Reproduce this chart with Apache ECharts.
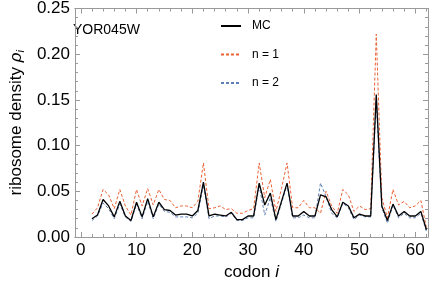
<!DOCTYPE html>
<html>
<head>
<meta charset="utf-8">
<script src="https://cdn.jsdelivr.net/npm/echarts@6/dist/echarts.min.js"></script>
<style>
html,body{margin:0;padding:0;background:#fff;}
#chart{width:436px;height:286px;}
</style>
</head>
<body>
<div id="chart"></div>
<script>
const codons = [2,3,4,5,6,7,8,9,10,11,12,13,14,15,16,17,18,19,20,21,22,23,24,25,26,27,28,29,30,31,32,33,34,35,36,37,38,39,40,41,42,43,44,45,46,47,48,49,50,51,52,53,54,55,56,57,58,59,60,61,62];
const mcValues = [0.020,0.024,0.041,0.034,0.022,0.039,0.023,0.018,0.038,0.022,0.042,0.022,0.038,0.030,0.029,0.024,0.025,0.025,0.023,0.029,0.060,0.023,0.025,0.024,0.023,0.027,0.019,0.019,0.023,0.023,0.059,0.035,0.048,0.019,0.039,0.059,0.023,0.023,0.028,0.023,0.023,0.046,0.044,0.030,0.022,0.038,0.034,0.021,0.025,0.023,0.023,0.156,0.034,0.018,0.036,0.023,0.028,0.023,0.023,0.028,0.008];
const n1Values = [0.025,0.032,0.052,0.046,0.031,0.052,0.034,0.024,0.052,0.034,0.053,0.035,0.052,0.041,0.040,0.032,0.034,0.034,0.032,0.039,0.081,0.031,0.032,0.034,0.030,0.031,0.026,0.026,0.029,0.031,0.081,0.043,0.063,0.028,0.053,0.081,0.032,0.032,0.040,0.032,0.032,0.026,0.050,0.034,0.026,0.052,0.046,0.028,0.034,0.030,0.031,0.222,0.043,0.021,0.052,0.035,0.039,0.032,0.034,0.040,0.010];
const n2Values = [0.018,0.023,0.037,0.031,0.020,0.036,0.022,0.017,0.036,0.020,0.039,0.020,0.036,0.028,0.027,0.022,0.022,0.022,0.021,0.026,0.057,0.020,0.023,0.023,0.022,0.026,0.018,0.018,0.021,0.021,0.056,0.024,0.043,0.017,0.037,0.057,0.021,0.021,0.024,0.021,0.021,0.059,0.044,0.026,0.021,0.037,0.032,0.019,0.024,0.022,0.022,0.150,0.032,0.015,0.035,0.021,0.026,0.021,0.021,0.026,0.006];
const xMajorTicks = [0,10,20,30,40,50,60];
const xMinorTicks = [2,4,6,8,12,14,16,18,22,24,26,28,32,34,36,38,42,44,46,48,52,54,56,58,62];
const seriesNames = ['MC','n = 1','n = 2'];
const geneLabel = 'YOR045W';

const frameColor = '#9a9a9a';
const font = '"Liberation Sans", Arial, Helvetica, sans-serif';
const XMIN = -1.04, XMAX = 62.28;

function pairs(vals){ return codons.map((c,i)=>[c, vals[i]]); }

function xAxisDef(pos, ticks, len, showLabel, extra){
  return Object.assign({
    type:'value', position:pos, min:XMIN, max:XMAX,
    axisLine:{show:true, onZero:false, lineStyle:{color:frameColor, width:1}},
    axisTick:{show:true, inside:true, length:len, customValues:ticks, lineStyle:{color:frameColor, width:1}},
    axisLabel:{show:showLabel, customValues:ticks, color:'#000', fontSize:17, fontFamily:font, margin:5},
    splitLine:{show:false}
  }, extra||{});
}
function yAxisDef(pos, showLabel, extra){
  return Object.assign({
    type:'value', position:pos, min:0, max:0.25, interval:0.05,
    axisLine:{show:true, onZero:false, lineStyle:{color:frameColor, width:1}},
    axisTick:{show:true, inside:true, length:5, lineStyle:{color:frameColor, width:1}},
    minorTick:{show:true, splitNumber:5, length:3, lineStyle:{color:frameColor, width:1}},
    axisLabel:{show:showLabel, color:'#000', fontSize:17, fontFamily:font, margin:5,
      formatter:v=>v.toFixed(2)},
    splitLine:{show:false}, minorSplitLine:{show:false}
  }, extra||{});
}

const chart = echarts.init(document.getElementById('chart'), null, {renderer:'canvas'});
chart.setOption({
  backgroundColor:'#fff',
  animation:false,
  grid:{left:62, right:8, top:7, bottom:48, containLabel:false},
  xAxis:[
    xAxisDef('bottom', xMajorTicks, 5, true, {
      name:'{n|codon }{i|i}', nameLocation:'middle', nameGap:27,
      nameTextStyle:{rich:{n:{fontSize:17, fontFamily:font, color:'#000'}, i:{fontSize:17, fontFamily:font, fontStyle:'italic', color:'#000'}}}
    }),
    xAxisDef('bottom', xMinorTicks, 3, false),
    xAxisDef('top', xMajorTicks, 5, false),
    xAxisDef('top', xMinorTicks, 3, false)
  ],
  yAxis:[
    yAxisDef('left', true, {
      name:'{n|ribosome density }{r|ρ}{s|i}', nameLocation:'middle', nameGap:46,
      nameTextStyle:{rich:{
        n:{fontSize:17, fontFamily:font, color:'#000'},
        r:{fontSize:17, fontFamily:font, fontStyle:'italic', color:'#000'},
        s:{fontSize:11, fontFamily:font, fontStyle:'italic', color:'#000', padding:[8,0,0,0]}
      }}
    }),
    yAxisDef('right', false)
  ],
  legend:{
    show:true, orient:'vertical', left:215, top:15, itemWidth:20, itemHeight:12, itemGap:16.5,
    data:seriesNames,
    itemStyle:{color:'rgba(0,0,0,0)', borderColor:'rgba(0,0,0,0)', borderWidth:0, opacity:0},
    textStyle:{fontSize:12, fontFamily:font, color:'#000', padding:[0,0,0,6]}
  },
  graphic:[{
    type:'text', left:73, top:23,
    style:{text:geneLabel, font:'14px ' + font, fill:'#000'}
  }],
  series:[
    {name:seriesNames[0], type:'line', data:pairs(mcValues), showSymbol:false, symbol:'none',
     lineStyle:{color:'#000', width:1.3}, itemStyle:{color:'#000'}, z:3},
    {name:seriesNames[1], type:'line', data:pairs(n1Values), showSymbol:false, symbol:'none',
     lineStyle:{color:'#eb6235', width:1, type:[3,2]}, itemStyle:{color:'#eb6235'}, z:2},
    {name:seriesNames[2], type:'line', data:pairs(n2Values), showSymbol:false, symbol:'none',
     lineStyle:{color:'#5e81b5', width:1, type:[3,2]}, itemStyle:{color:'#5e81b5'}, z:2}
  ]
});
</script>
</body>
</html>
